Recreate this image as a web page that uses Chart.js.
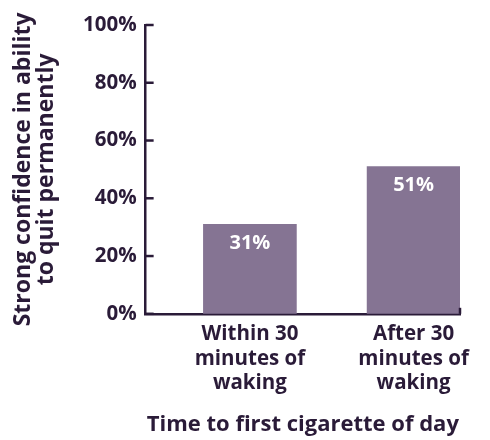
<!DOCTYPE html>
<html>
<head>
<meta charset="utf-8">
<script src="https://cdn.jsdelivr.net/npm/chart.js@4/dist/chart.umd.min.js"></script>
<style>
  html, body { margin: 0; padding: 0; background: #fff; }
  #wrap { width: 490px; height: 440px; }
</style>
</head>
<body>
<div id="wrap"><canvas id="chart"></canvas></div>
<script>
// data
let categories = [
    ['Within 30', 'minutes of', 'waking'],
    ['After 30', 'minutes of', 'waking']
];
let values = [31, 51];
let yTicks = [0, 20, 40, 60, 80, 100];

const dark = '#2a1b38';
const barColor = '#857493';
const font = '"Open Sans", "Noto Sans", sans-serif';

// inward ticks, right end mark and value labels
const extras = {
    id: 'extras',
    afterDatasetsDraw(chart) {
        const ctx = chart.ctx;
        const y = chart.scales.y;
        const area = chart.chartArea;
        ctx.save();
        ctx.strokeStyle = dark;
        ctx.lineWidth = 2.5;
        yTicks.forEach(v => {
            const py = y.getPixelForValue(v);
            ctx.beginPath();
            ctx.moveTo(area.left, py);
            ctx.lineTo(area.left + 8, py);
            ctx.stroke();
        });
        ctx.beginPath();
        ctx.moveTo(area.right, area.bottom);
        ctx.lineTo(area.right, area.bottom - 6);
        ctx.stroke();

        ctx.fillStyle = '#ffffff';
        ctx.font = 'bold 20px ' + font;
        ctx.textAlign = 'center';
        ctx.textBaseline = 'middle';
        chart.getDatasetMeta(0).data.forEach((bar, i) => {
            ctx.fillText(values[i] + '%', bar.x, bar.y + 19);
        });
        ctx.restore();
    }
};

new Chart(document.getElementById('chart'), {
    type: 'bar',
    data: {
        datasets: [{
            data: values.map((v, i) => ({ x: i + 1, y: v })),
            backgroundColor: barColor,
            barThickness: 93
        }]
    },
    options: {
        responsive: true,
        maintainAspectRatio: false,
        animation: false,
        layout: { padding: { top: 25, right: 30, bottom: 2, left: 12 } },
        plugins: {
            legend: { display: false },
            tooltip: { enabled: false }
        },
        scales: {
            x: {
                type: 'linear',
                offset: false,
                min: 0.363,
                max: 2.2835,
                afterBuildTicks: scale => {
                    scale.ticks = categories.map((c, i) => ({ value: i + 1 }));
                },
                grid: { display: false, drawTicks: false },
                border: { display: true, color: dark, width: 2.5 },
                ticks: {
                    color: dark,
                    font: { family: font, size: 20.5, weight: 'bold', lineHeight: 1.2 },
                    padding: 8,
                    maxRotation: 0,
                    autoSkip: false,
                    callback: v => categories[v - 1]
                },
                title: {
                    display: true,
                    text: 'Time to first cigarette of day',
                    color: dark,
                    font: { family: font, size: 22, weight: 'bold', lineHeight: 1.2 },
                    padding: { top: 8, bottom: 0 }
                }
            },
            y: {
                min: 0,
                max: 100,
                afterBuildTicks: scale => {
                    scale.ticks = yTicks.map(v => ({ value: v }));
                },
                grid: { display: false, drawTicks: false },
                border: { display: true, color: dark, width: 2.5 },
                ticks: {
                    color: dark,
                    font: { family: font, size: 20.5, weight: 'bold' },
                    padding: 9,
                    callback: v => v + '%'
                },
                title: {
                    display: true,
                    text: ['Strong confidence in ability', 'to quit permanently'],
                    color: dark,
                    font: { family: font, size: 23, weight: 'bold', lineHeight: 1.0 },
                    padding: { top: 0, bottom: 16 }
                }
            }
        }
    },
    plugins: [extras]
});
</script>
</body>
</html>
